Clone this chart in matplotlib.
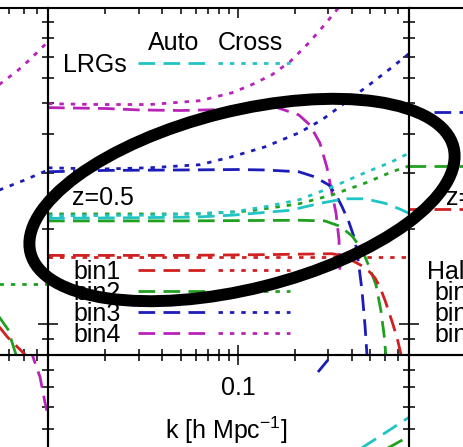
import matplotlib.pyplot as plt
from matplotlib.patches import Ellipse
from matplotlib.lines import Line2D

plt.rcParams['font.family'] = ['Liberation Sans', 'DejaVu Sans']
plt.rcParams['mathtext.fontset'] = 'custom'
plt.rcParams['mathtext.rm'] = 'Liberation Sans'
plt.rcParams['mathtext.default'] = 'regular'

# ---- values (k in h/Mpc, y arbitrary log units) ----
# main panel: LRGs, z=0.5
k_lrg_auto = [0.01, 0.03, 0.06, 0.093, 0.189, 0.272, 0.368, 0.469, 0.598, 0.717, 0.8]
p_lrg_auto = [2.16, 2.17, 2.18, 2.21, 2.29, 2.41, 2.49, 2.49, 2.41, 2.31, 2.24]
k_lrg_cross = [0.01, 0.035, 0.093, 0.139, 0.21, 0.314, 0.469, 0.651, 0.8]
p_lrg_cross = [2.20, 2.21, 2.26, 2.35, 2.47, 2.71, 3.01, 3.26, 3.47]

k_b1_auto = [0.01, 0.05, 0.15, 0.314, 0.368, 0.401, 0.452, 0.492, 0.53, 0.562, 0.598, 0.628, 0.658, 0.691, 0.717, 0.735]
p_b1_auto = [1.65, 1.65, 1.66, 1.67, 1.64, 1.59, 1.53, 1.47, 1.40, 1.31, 1.19, 1.09, 1.00, 0.91, 0.83, 0.77]
k_b1_cross = [0.01, 0.1, 0.8]
p_b1_cross = [1.63, 1.63, 1.63]

k_b2_auto = [0.01, 0.05, 0.213, 0.288, 0.346, 0.401, 0.452, 0.498, 0.536, 0.568, 0.592, 0.605, 0.61]
p_b2_auto = [2.12, 2.12, 2.13, 2.12, 2.04, 1.90, 1.72, 1.50, 1.33, 1.11, 0.92, 0.79, 0.76]
k_b2_cross = [0.01, 0.0633, 0.116, 0.21, 0.314, 0.469, 0.651, 0.8]
p_b2_cross = [2.23, 2.23, 2.28, 2.40, 2.56, 2.79, 3.03, 3.16]

k_b3_auto = [0.01, 0.02, 0.05, 0.1, 0.139, 0.21, 0.255, 0.303, 0.33, 0.355, 0.386, 0.415, 0.435, 0.452, 0.469, 0.481, 0.488]
p_b3_auto = [3.03, 3.06, 3.07, 3.08, 3.07, 3.03, 2.92, 2.75, 2.56, 2.35, 2.10, 1.85, 1.54, 1.28, 0.99, 0.79, 0.74]
k_b3_cross = [0.01, 0.0188, 0.0345, 0.0633, 0.0933, 0.139, 0.21, 0.278, 0.368, 0.511, 0.628, 0.8]
p_b3_cross = [3.12, 3.09, 3.12, 3.19, 3.38, 3.63, 4.02, 4.42, 5.00, 5.79, 6.37, 7.15]

k_b4_auto = [0.01, 0.02, 0.03, 0.05, 0.08, 0.12, 0.157, 0.21, 0.24, 0.271, 0.295, 0.314, 0.33, 0.342, 0.346]
p_b4_auto = [4.83, 4.80, 4.75, 4.73, 4.76, 4.83, 4.86, 4.58, 4.26, 3.74, 3.14, 2.60, 2.24, 1.85, 1.48]
k_b4_cross = [0.01, 0.0188, 0.0345, 0.0633, 0.0933, 0.119, 0.152, 0.189, 0.238, 0.288, 0.355]
p_b4_cross = [4.97, 4.94, 4.94, 5.08, 5.38, 5.71, 6.14, 6.75, 7.75, 8.84, 10.3]

# panel to the left (only its high-k end is visible)
kl_b4_cross = [0.44, 0.55, 0.65, 0.8]
pl_b4_cross = [5.7, 6.3, 6.9, 7.8]
kl_b3_cross = [0.44, 0.6, 0.8]
pl_b3_cross = [2.65, 2.85, 3.07]
kl_b2_cross = [0.44, 0.8]
pl_b2_cross = [1.34, 1.34]
kl_b1_auto = [0.40, 0.45, 0.49, 0.59, 0.62]
pl_b1_auto = [1.05, 0.97, 0.91, 0.815, 0.79]
kl_b2_auto = [0.42, 0.447, 0.492, 0.536, 0.55]
pl_b2_auto = [1.10, 1.045, 0.964, 0.82, 0.78]

# panel to the right (only its low-k end is visible)
kr = [0.01, 0.03]
pr_b1 = [2.31, 2.31]
pr_b2 = [3.16, 3.16]
pr_b3 = [4.69, 4.69]

# lower row of panels
kll_b4 = [0.64, 0.667, 0.726, 0.772, 0.79]
pll_b4 = [1.05, 0.986, 0.859, 0.718, 0.68]
klo_lrg = [0.39, 0.46, 0.6, 0.8]
plo_lrg = [0.485, 0.53, 0.584, 0.65]
klo_b2 = [0.55, 0.636, 0.8]
plo_b2 = [0.508, 0.53, 0.57]
klo_b3 = [0.265, 0.299]
plo_b3 = [0.889, 0.966]

RED, GREEN, BLUE, MAG, CYAN = '#d02020', '#20a020', '#1c1cb8', '#b822b8', '#20c4c4'
AUTO = dict(lw=2.0, dashes=(6, 3))
CROSS = dict(lw=2.0, dashes=(1.6, 2.5))

W, H = 464, 447
fig = plt.figure(figsize=(W / 100, H / 100), dpi=100)


def fx(x):
    return x / W


def fy(y):
    return 1 - y / H


def panel(x0, x1, y0, y1, ylim):
    ax = fig.add_axes([fx(x0), fy(y1), (x1 - x0) / W, (y1 - y0) / H])
    ax.set_xscale('log')
    ax.set_yscale('log')
    ax.set_xlim(0.01, 0.8)
    ax.set_ylim(*ylim)
    ax.tick_params(which='both', direction='in', top=True, right=True,
                   labelbottom=False, labelleft=False, width=1.1)
    ax.tick_params(which='major', length=7.5)
    ax.tick_params(which='minor', length=4.3)
    for s in ax.spines.values():
        s.set_linewidth(1.5)
    ax.patch.set_alpha(0)
    return ax


# pixel boxes: main panel spans x 48..409, y 7.5..355
ax = panel(48, 409, 7.5, 355, (0.8, 10))
axl = panel(-313, 48, 7.5, 355, (0.8, 10))
axr = panel(409, 770, 7.5, 355, (0.8, 10))
axlo = panel(48, 409, 355, 688, (0.1, 1.0))
axllo = panel(-313, 48, 355, 688, (0.1, 1.0))
axrlo = panel(409, 770, 355, 688, (0.1, 1.0))

ax.plot(k_b4_cross, p_b4_cross, color=MAG, **CROSS)
ax.plot(k_b4_auto, p_b4_auto, color=MAG, **AUTO)
ax.plot(k_b3_cross, p_b3_cross, color=BLUE, **CROSS)
ax.plot(k_b3_auto, p_b3_auto, color=BLUE, **AUTO)
ax.plot(k_b2_cross, p_b2_cross, color=GREEN, **CROSS)
ax.plot(k_b2_auto, p_b2_auto, color=GREEN, **AUTO)
ax.plot(k_lrg_cross, p_lrg_cross, color=CYAN, **CROSS)
ax.plot(k_lrg_auto, p_lrg_auto, color=CYAN, **AUTO)
ax.plot(k_b1_cross, p_b1_cross, color=RED, **CROSS)
ax.plot(k_b1_auto, p_b1_auto, color=RED, **AUTO)

axl.plot(kl_b4_cross, pl_b4_cross, color=MAG, **CROSS)
axl.plot(kl_b3_cross, pl_b3_cross, color=BLUE, **CROSS)
axl.plot(kl_b2_cross, pl_b2_cross, color=GREEN, **CROSS)
axl.plot(kl_b2_auto, pl_b2_auto, color=GREEN, **AUTO)
axl.plot(kl_b1_auto, pl_b1_auto, color=RED, **AUTO)

axr.plot(kr, pr_b3, color=BLUE, **AUTO)
axr.plot(kr, pr_b2, color=GREEN, **AUTO)
axr.plot(kr, pr_b1, color=RED, **AUTO)

axllo.plot(kll_b4, pll_b4, color=MAG, **AUTO)
axlo.plot(klo_b3, plo_b3, color=BLUE, **AUTO)
axlo.plot(klo_lrg, plo_lrg, color=CYAN, **AUTO)
axlo.plot(klo_b2, plo_b2, color=GREEN, **AUTO)

# key, drawn by hand like the gnuplot one
FS = 18
fig.text(fx(148), fy(50), 'Auto', fontsize=FS, va='baseline')
fig.text(fx(218), fy(50), 'Cross', fontsize=FS, va='baseline')
rows = [('LRGs', CYAN, 63, 63), ('bin1', RED, 270, 73), ('bin2', GREEN, 291, 73),
        ('bin3', BLUE, 312, 73), ('bin4', MAG, 333, 73)]
for name, col, yc, xt in rows:
    fig.text(fx(xt), fy(yc + 9), name, fontsize=FS, va='baseline')
    fig.add_artist(Line2D([fx(138), fx(210)], [fy(yc), fy(yc)], transform=fig.transFigure,
                          color=col, zorder=5, **AUTO))
    fig.add_artist(Line2D([fx(218), fx(290)], [fy(yc), fy(yc)], transform=fig.transFigure,
                          color=col, zorder=5, **CROSS))
fig.text(fx(72), fy(205), 'z=0.5', fontsize=FS, va='baseline')

# right panel text (cut by the edge)
fig.text(fx(446), fy(205), 'z=0.5', fontsize=FS, va='baseline')
fig.text(fx(427), fy(279), 'Halo', fontsize=FS, va='baseline')
for i, yc in enumerate([291, 312, 333]):
    fig.text(fx(434), fy(yc + 9), f'bin{i + 1}', fontsize=FS, va='baseline')

# axis annotations
fig.text(fx(238), fy(395), '0.1', fontsize=FS, va='baseline', ha='center')
fig.text(fx(226), fy(439), r'k [h Mpc$^{-1}$]', fontsize=FS, va='baseline', ha='center')

# hand-drawn black ellipse over the figure
ell = Ellipse((2.42, (H - 200) / 100), 4.36, 1.78, angle=14, transform=fig.dpi_scale_trans,
              fill=False, ec='black', lw=8.6, zorder=10)
fig.add_artist(ell)

fig.savefig('out.png', dpi=100)
